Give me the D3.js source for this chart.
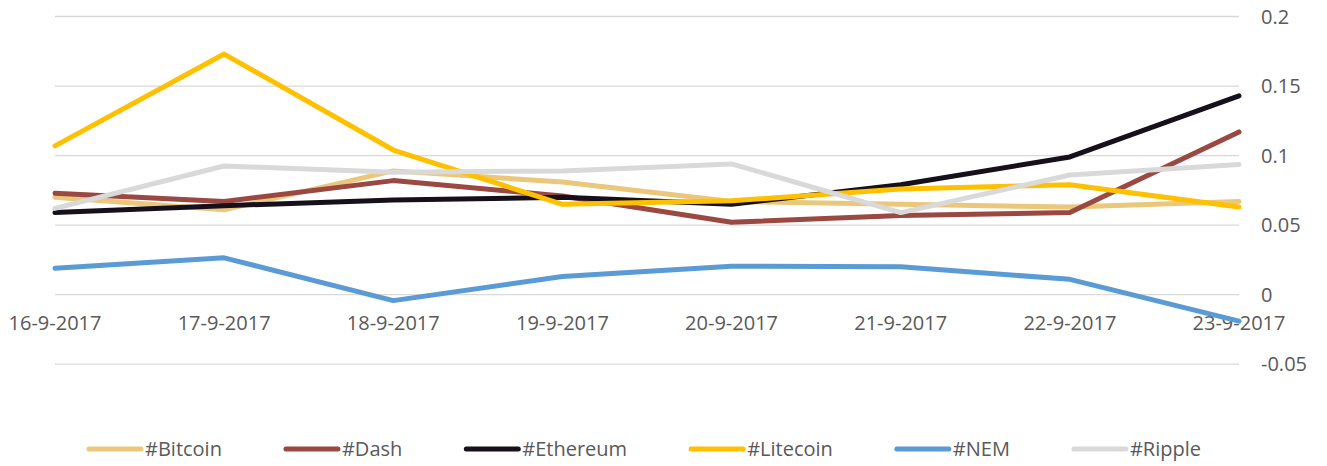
<!DOCTYPE html>
<html>
<head>
<meta charset="utf-8">
<script src="https://cdn.jsdelivr.net/npm/d3@7"></script>
<style>
  html, body { margin: 0; padding: 0; background: #fff; }
  svg text { font-family: "Open Sans", "Liberation Sans", sans-serif; fill: #595959; }
</style>
</head>
<body>
<svg id="chart" width="1327" height="466"></svg>
<script>
const categories = ["16-9-2017", "17-9-2017", "18-9-2017", "19-9-2017", "20-9-2017", "21-9-2017", "22-9-2017", "23-9-2017"];
const seriesNames = ["#Bitcoin", "#Dash", "#Ethereum", "#Litecoin", "#NEM", "#Ripple"];
const bitcoin  = [0.070, 0.061, 0.089, 0.081, 0.067, 0.065, 0.063, 0.067];
const dash     = [0.073, 0.067, 0.082, 0.071, 0.052, 0.057, 0.059, 0.117];
const ethereum = [0.059, 0.064, 0.068, 0.070, 0.065, 0.079, 0.099, 0.143];
const litecoin = [0.107, 0.173, 0.104, 0.065, 0.0675, 0.076, 0.079, 0.063];
const nem      = [0.019, 0.0265, -0.0043, 0.013, 0.0205, 0.020, 0.011, -0.019];
const ripple   = [0.062, 0.0925, 0.088, 0.089, 0.094, 0.059, 0.086, 0.0935];
const yTicks   = [-0.05, 0, 0.05, 0.1, 0.15, 0.2];
const yTickLabels = ["-0.05", "0", "0.05", "0.1", "0.15", "0.2"];
const colors = ["#EBC77C", "#9A4841", "#15101A", "#FFC000", "#5B9BD5", "#D9D9D9"];

const seriesValues = [bitcoin, dash, ethereum, litecoin, nem, ripple];

(function () {
const svg = d3.select("#chart");
const mLeft = 55, mRight = 1239, mTop = 16.5, mBottom = 364.2;

const x = d3.scalePoint().domain(categories).range([mLeft, mRight]);
const y = d3.scaleLinear().domain([-0.05, 0.2]).range([mBottom, mTop]);

// gridlines
svg.append("g").selectAll("line").data(yTicks).join("line")
  .attr("x1", mLeft).attr("x2", mRight)
  .attr("y1", d => y(d)).attr("y2", d => y(d))
  .attr("stroke", "#D9D9D9").attr("stroke-width", 1.3);

// y labels on right
svg.append("g").selectAll("text").data(yTicks).join("text")
  .attr("x", 1261).attr("y", d => y(d))
  .attr("dy", "0.35em")
  .attr("font-size", 20)
  .text((d, i) => yTickLabels[i]);

// x labels
svg.append("g").selectAll("text").data(categories).join("text")
  .attr("x", d => x(d)).attr("y", 323)
  .attr("dy", "0.35em")
  .attr("text-anchor", "middle")
  .attr("font-size", 20)
  .text(d => d);

// lines
const line = d3.line().x((d, i) => x(categories[i])).y(d => y(d));
svg.append("g").selectAll("path").data(seriesValues).join("path")
  .attr("d", d => line(d))
  .attr("fill", "none")
  .attr("stroke", (d, i) => colors[i])
  .attr("stroke-width", 5)
  .attr("stroke-linejoin", "round")
  .attr("stroke-linecap", "round");

// legend
const legY = 449;
const lg = svg.append("g");
const items = seriesNames.map((name, i) => {
  const g = lg.append("g");
  g.append("line").attr("x1", 0).attr("x2", 52).attr("y1", legY).attr("y2", legY)
    .attr("stroke", colors[i]).attr("stroke-width", 5).attr("stroke-linecap", "round");
  const t = g.append("text").attr("x", 56).attr("y", legY).attr("dy", "0.35em")
    .attr("font-size", 20).text(name);
  return { g, w: 56 + t.node().getComputedTextLength() };
});
const gap = 64;
const total = d3.sum(items, d => d.w) + gap * (items.length - 1);
let cx = 645 - total / 2;
items.forEach(it => { it.g.attr("transform", `translate(${cx},0)`); cx += it.w + gap; });
})();
</script>
</body>
</html>
